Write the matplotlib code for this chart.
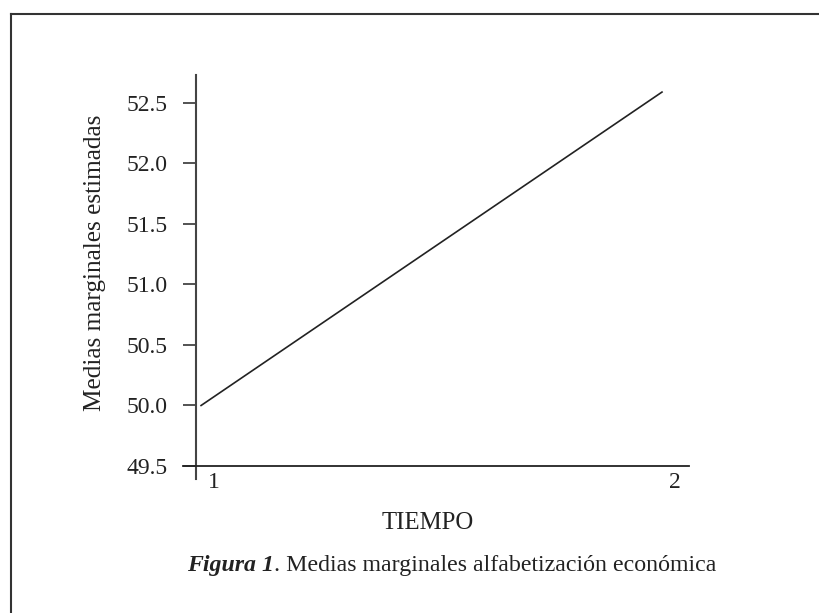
import matplotlib.pyplot as plt
import matplotlib.transforms as mtransforms
from matplotlib.lines import Line2D

# data
tiempo = [1, 2]
tiempo_labels = ["1", "2"]
medias = [50.0, 52.59]
y_ticks = [49.5, 50.0, 50.5, 51.0, 51.5, 52.0, 52.5]

plt.rcParams['font.family'] = ['Liberation Serif', 'DejaVu Serif']
W, H = 819, 613
fig = plt.figure(figsize=(W / 100, H / 100), dpi=100)

# axes box in pixels: y-axis at x=196, x-axis at y=466, top 75, right 689
ax = fig.add_axes([196 / W, (H - 466) / H, (689 - 196) / W, (466 - 75) / H])
ax.plot(tiempo, medias, color='#222222', lw=1.2)

ax.set_xlim(0.989, 2.0586)
ax.set_ylim(49.5, 52.731)
for s in ax.spines.values():
    s.set_visible(False)

# axis lines, each overshooting the other a bit
ax.plot([0, 0], [-13 / 391, 1], transform=ax.transAxes, color='#444444', lw=1.5, clip_on=False)
ax.plot([-13 / 493, 1], [0, 0], transform=ax.transAxes, color='#222222', lw=1.3, clip_on=False)

ax.set_yticks(y_ticks)
ax.set_yticklabels([f"{v:.1f}" for v in y_ticks])
ax.tick_params(axis='y', direction='out', length=9.4, width=1.3, color='#444444',
               pad=11, labelsize=17, labelcolor='#222222')
ax.set_xticks([])

# category labels, set slightly right of the data points
off = mtransforms.ScaledTranslation(13 / 100, -16 / 100, fig.dpi_scale_trans)
for x, lab in zip(tiempo, tiempo_labels):
    ax.text(x, 0, lab, transform=mtransforms.blended_transform_factory(ax.transData, ax.transAxes) + off,
            ha='center', va='center', fontsize=17, color='#222222')

fig.text(95 / W, 1 - 263 / H, "Medias marginales estimadas", rotation=90,
         ha='center', va='center', fontsize=18.2, color='#222222')
fig.text(428 / W, 1 - 523 / H, "TIEMPO", ha='center', va='center', fontsize=17.8, color='#222222')

# caption with bold italic prefix
t1 = fig.text(187 / W, 1 - 565 / H, "Figura 1", ha='left', va='center', fontsize=17.2,
              fontweight='bold', fontstyle='italic', color='#222222')
fig.canvas.draw()
bb = t1.get_window_extent()
fig.text(bb.x1 / W, 1 - 565 / H, ". Medias marginales alfabetización económica", ha='left',
         va='center', fontsize=17.2, color='#222222')

# outer frame (top and left only)
fig.add_artist(Line2D([11 / W, 1], [1 - 14 / H, 1 - 14 / H], transform=fig.transFigure, color='#333333', lw=1.5))
fig.add_artist(Line2D([11 / W, 11 / W], [0, 1 - 14 / H], transform=fig.transFigure, color='#333333', lw=1.5))

fig.savefig("out.png", dpi=100)
